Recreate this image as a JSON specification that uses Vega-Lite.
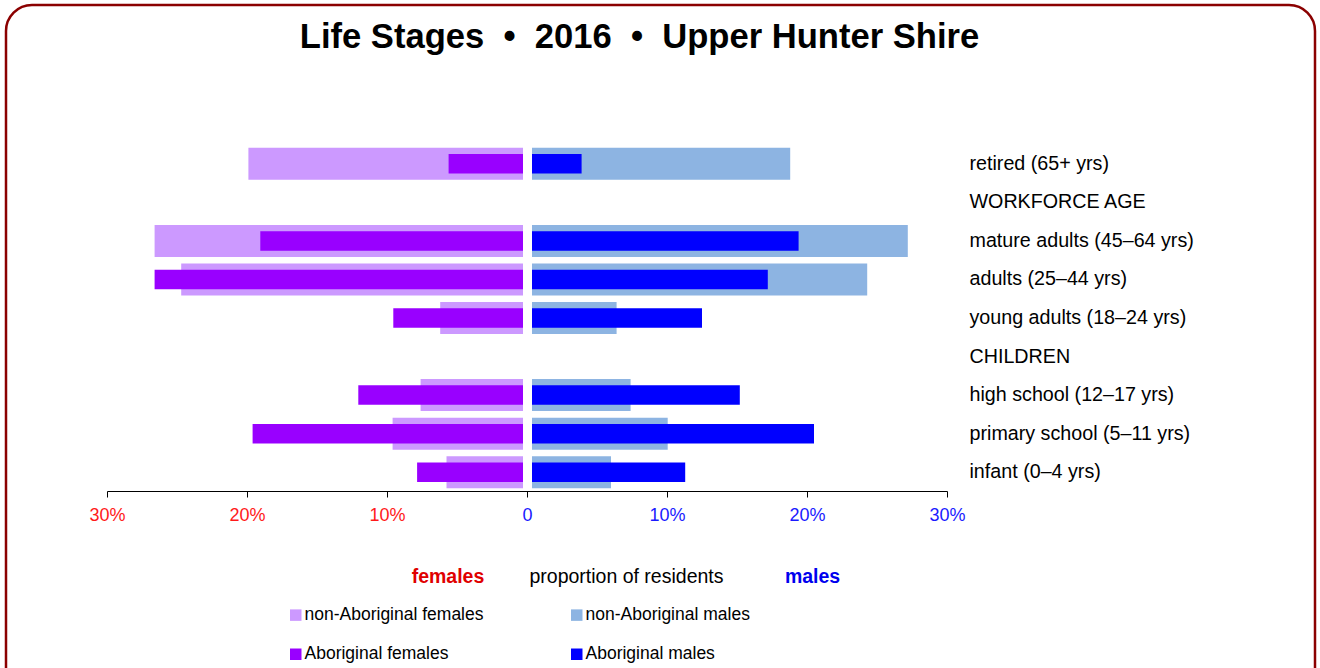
{
  "$schema": "https://vega.github.io/schema/vega-lite/v6.json",
  "width": 1309,
  "height": 720,
  "autosize": {"type": "none"},
  "padding": {"left": 6, "top": 5, "right": 5, "bottom": -57},
  "background": "white",
  "config": {
    "view": {"stroke": "#8B0000", "strokeWidth": 2.5, "cornerRadius": 26},
    "font": "Liberation Sans"
  },
  "title": {
    "text": "Life Stages \u00a0•\u00a0 2016 \u00a0•\u00a0 Upper Hunter Shire",
    "font": "Liberation Sans",
    "fontSize": 34.6,
    "fontWeight": "bold",
    "color": "black",
    "anchor": "middle",
    "baseline": "alphabetic",
    "offset": 0,
    "dx": -21,
    "dy": 78
  },
  "data": {
    "values": [
      {"stage": "retired (65+ yrs)", "group": "non-Aboriginal females", "pct": -19.9},
      {"stage": "retired (65+ yrs)", "group": "Aboriginal females", "pct": -5.6},
      {"stage": "retired (65+ yrs)", "group": "non-Aboriginal males", "pct": 18.8},
      {"stage": "retired (65+ yrs)", "group": "Aboriginal males", "pct": 3.9},
      {"stage": "mature adults (45–64 yrs)", "group": "non-Aboriginal females", "pct": -26.6},
      {"stage": "mature adults (45–64 yrs)", "group": "Aboriginal females", "pct": -19.05},
      {"stage": "mature adults (45–64 yrs)", "group": "non-Aboriginal males", "pct": 27.2},
      {"stage": "mature adults (45–64 yrs)", "group": "Aboriginal males", "pct": 19.4},
      {"stage": "adults (25–44 yrs)", "group": "non-Aboriginal females", "pct": -24.7},
      {"stage": "adults (25–44 yrs)", "group": "Aboriginal females", "pct": -26.6},
      {"stage": "adults (25–44 yrs)", "group": "non-Aboriginal males", "pct": 24.3},
      {"stage": "adults (25–44 yrs)", "group": "Aboriginal males", "pct": 17.2},
      {"stage": "young adults (18–24 yrs)", "group": "non-Aboriginal females", "pct": -6.2},
      {"stage": "young adults (18–24 yrs)", "group": "Aboriginal females", "pct": -9.55},
      {"stage": "young adults (18–24 yrs)", "group": "non-Aboriginal males", "pct": 6.4},
      {"stage": "young adults (18–24 yrs)", "group": "Aboriginal males", "pct": 12.5},
      {"stage": "high school (12–17 yrs)", "group": "non-Aboriginal females", "pct": -7.6},
      {"stage": "high school (12–17 yrs)", "group": "Aboriginal females", "pct": -12.05},
      {"stage": "high school (12–17 yrs)", "group": "non-Aboriginal males", "pct": 7.4},
      {"stage": "high school (12–17 yrs)", "group": "Aboriginal males", "pct": 15.2},
      {"stage": "primary school (5–11 yrs)", "group": "non-Aboriginal females", "pct": -9.6},
      {"stage": "primary school (5–11 yrs)", "group": "Aboriginal females", "pct": -19.6},
      {"stage": "primary school (5–11 yrs)", "group": "non-Aboriginal males", "pct": 10.05},
      {"stage": "primary school (5–11 yrs)", "group": "Aboriginal males", "pct": 20.5},
      {"stage": "infant (0–4 yrs)", "group": "non-Aboriginal females", "pct": -5.75},
      {"stage": "infant (0–4 yrs)", "group": "Aboriginal females", "pct": -7.85},
      {"stage": "infant (0–4 yrs)", "group": "non-Aboriginal males", "pct": 6.0},
      {"stage": "infant (0–4 yrs)", "group": "Aboriginal males", "pct": 11.3}
    ]
  },
  "layer": [
    {
      "encoding": {
        "y": {
          "field": "stage",
          "type": "nominal",
          "sort": null,
          "scale": {
            "domain": ["retired (65+ yrs)", "WORKFORCE AGE", "mature adults (45–64 yrs)", "adults (25–44 yrs)", "young adults (18–24 yrs)", "CHILDREN", "high school (12–17 yrs)", "primary school (5–11 yrs)", "infant (0–4 yrs)"],
            "range": [139.5, 486.5],
            "paddingInner": 0,
            "paddingOuter": 0
          },
          "axis": {
            "orient": "right",
            "offset": -346,
            "domain": false,
            "ticks": false,
            "tickSize": 0,
            "labelPadding": 0,
            "labelFont": "Liberation Sans",
            "labelFontSize": 19.7,
            "labelColor": "black",
            "labelLimit": 400,
            "title": null
          }
        },
        "x": {
          "field": "pct",
          "type": "quantitative",
          "scale": {"domain": [-30, 30], "range": [101, 941], "nice": false, "zero": false},
          "axis": {
            "orient": "bottom",
            "offset": -234,
            "values": [-30, -20, -10, 0, 10, 20, 30],
            "labelExpr": "datum.value == 0 ? '0' : abs(datum.value) + '%'",
            "labelColor": {"condition": {"test": "datum.value < 0", "value": "#FF1A1A"}, "value": "#1A1AFF"},
            "labelFont": "Liberation Sans",
            "labelFontSize": 18,
            "labelPadding": 9,
            "labelFlush": false,
            "labelOverlap": false,
            "tickSize": 6,
            "tickColor": "black",
            "domainColor": "black",
            "grid": false,
            "title": null
          }
        },
        "x2": {"datum": 0},
        "color": {
          "field": "group",
          "type": "nominal",
          "scale": {
            "domain": ["non-Aboriginal females", "Aboriginal females", "non-Aboriginal males", "Aboriginal males"],
            "range": ["#CC99FF", "#9900FF", "#8DB4E2", "#0000FF"]
          },
          "legend": {
            "title": null,
            "orient": "none",
            "legendX": 281,
            "legendY": 601,
            "columns": 2,
            "columnPadding": 84,
            "rowPadding": 20.5,
            "padding": 0,
            "symbolType": "square",
            "symbolSize": 132,
            "symbolStrokeWidth": 0,
            "labelFont": "Liberation Sans",
            "labelFontSize": 17.5,
            "labelColor": "black",
            "labelOffset": 0,
            "labelLimit": 400
          }
        }
      },
      "layer": [
        {"transform": [{"filter": "datum.group == 'non-Aboriginal females'"}], "mark": {"type": "bar", "size": 32, "x2Offset": -4}},
        {"transform": [{"filter": "datum.group == 'non-Aboriginal males'"}], "mark": {"type": "bar", "size": 32, "x2Offset": 5}},
        {"transform": [{"filter": "datum.group == 'Aboriginal females'"}], "mark": {"type": "bar", "size": 19.5, "x2Offset": -4}},
        {"transform": [{"filter": "datum.group == 'Aboriginal males'"}], "mark": {"type": "bar", "size": 19.5, "x2Offset": 5}}
      ]
    },
    {
      "data": {"values": [{"k": "a"}]},
      "mark": {"type": "rule", "strokeOpacity": 0},
      "encoding": {
        "x": {
          "datum": 0,
          "type": "quantitative",
          "scale": {"domain": [-30, 30], "range": [101, 941], "nice": false, "zero": false},
          "axis": {
            "orient": "bottom",
            "offset": -149,
            "values": [-5.68, 7.07, 20.36],
            "labelExpr": "datum.value < 0 ? 'females' : (datum.value < 15 ? 'proportion of residents' : 'males')",
            "labelColor": {"condition": [{"test": "datum.value < 0", "value": "#E00000"}, {"test": "datum.value > 15", "value": "#0000EE"}], "value": "black"},
            "labelFontWeight": {"condition": {"test": "datum.value < 0 || datum.value > 15", "value": "bold"}, "value": "normal"},
            "labelFont": "Liberation Sans",
            "labelFontSize": 19.5,
            "labelBaseline": "middle",
            "labelPadding": 0,
            "labelLimit": 400,
            "labelFlush": false,
            "labelOverlap": false,
            "labelBound": false,
            "domain": false,
            "ticks": false,
            "tickSize": 0,
            "grid": false,
            "title": null
          }
        }
      }
    }
  ],
  "resolve": {"scale": {"x": "independent"}}
}
